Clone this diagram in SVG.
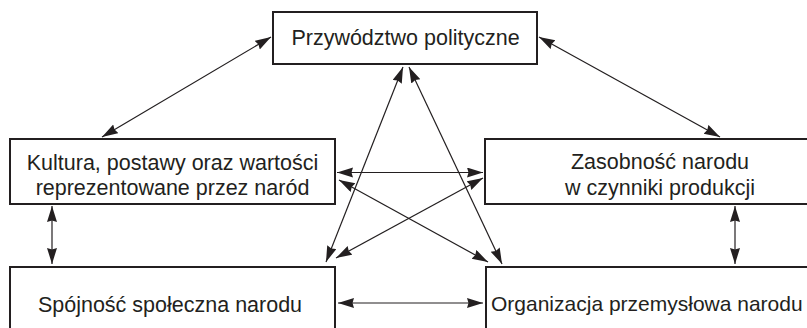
<svg xmlns="http://www.w3.org/2000/svg" width="807" height="328" viewBox="0 0 807 328">
  <style>
    .box rect { fill: #ffffff; stroke: #231f20; stroke-width: 2; }
    .box text { font-family: "Liberation Sans", Arial, sans-serif; font-size: 21.5px; fill: #231f20; text-anchor: middle; }
    #connectors line { stroke: #231f20; stroke-width: 1.2; marker-start: url(#head); marker-end: url(#head); }
  </style>
  <defs>
    <!-- filled arrowhead used at both ends of every connector -->
    <marker id="head" markerUnits="userSpaceOnUse" markerWidth="17" markerHeight="11" refX="16" refY="5" orient="auto-start-reverse">
      <path d="M0,0 L16,5 L0,10 L1.5,5 z" fill="#231f20"/>
    </marker>
  </defs>

  <rect width="807" height="328" fill="#ffffff"/>

  <g id="leadership" class="box">
    <rect x="273" y="12" width="264" height="52"/>
    <text x="405.5" y="44.5">Przywództwo polityczne</text>
  </g>

  <g id="culture" class="box">
    <rect x="10" y="139" width="325" height="65"/>
    <text x="172.5" y="169.5">Kultura, postawy oraz wartości</text>
    <text x="172.5" y="194.5">reprezentowane przez naród</text>
  </g>

  <g id="resources" class="box">
    <rect x="485" y="139" width="350" height="65"/>
    <text x="660" y="168.5">Zasobność narodu</text>
    <text x="660" y="194.5">w czynniki produkcji</text>
  </g>

  <g id="cohesion" class="box">
    <rect x="10" y="267" width="325" height="80"/>
    <text x="170" y="311.5">Spójność społeczna narodu</text>
  </g>

  <g id="industry" class="box">
    <rect x="486" y="267" width="350" height="80"/>
    <text x="491" y="310.5" style="text-anchor:start;font-size:21px">Organizacja przemysłowa narodu</text>
  </g>

  <g id="connectors">
    <line x1="271" y1="37" x2="102" y2="137"/>
    <line x1="539" y1="37" x2="720" y2="137"/>
    <line x1="52" y1="206" x2="52" y2="264"/>
    <line x1="735" y1="206" x2="735" y2="264"/>
    <line x1="338" y1="303" x2="483" y2="303"/>
    <line x1="337" y1="172.5" x2="483" y2="172.5"/>
    <line x1="339" y1="180" x2="488" y2="262"/>
    <line x1="483" y1="178" x2="336" y2="258"/>
    <line x1="403" y1="67" x2="326" y2="262"/>
    <line x1="409" y1="67" x2="502" y2="264"/>
  </g>
</svg>
